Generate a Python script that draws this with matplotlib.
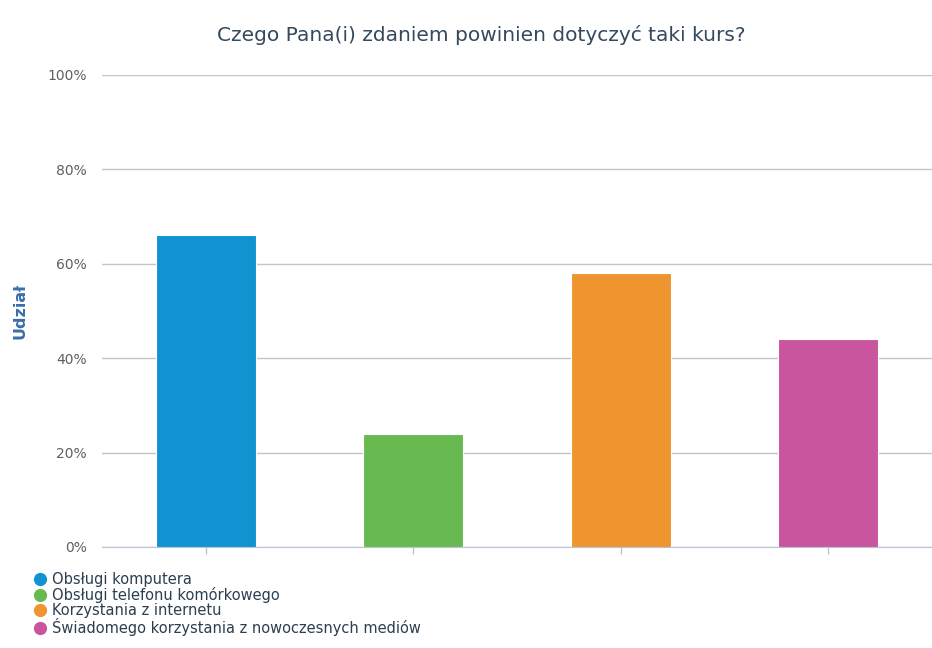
import matplotlib.pyplot as plt
from matplotlib.lines import Line2D
from matplotlib.ticker import FuncFormatter

plt.rcParams['font.family'] = ['DejaVu Sans']

categories = ["Obsługi komputera", "Obsługi telefonu komórkowego",
              "Korzystania z internetu", "Świadomego korzystania z nowoczesnych mediów"]
values = [66, 24, 58, 44]
colors = ["#1193d2", "#68ba50", "#ee9530", "#c8559d"]
yticks = [0, 20, 40, 60, 80, 100]

fig = plt.figure(figsize=(9.32, 6.48), dpi=100)
ax = fig.add_axes([102/932, 1-547/648, 830/932, 472/648])

x = list(range(len(values)))
ax.bar(x, values, width=0.48, color=colors, edgecolor='white', linewidth=0.8, zorder=3)
ax.set_xlim(-0.5, len(values)-0.5)
ax.set_ylim(0, 100)
ax.set_yticks(yticks)
ax.yaxis.set_major_formatter(FuncFormatter(lambda v, p: f"{v:.0f}%"))
ax.grid(axis='y', color='#c4c4c4', linewidth=1, zorder=0)
ax.tick_params(axis='y', length=0, pad=11, labelsize=10, labelcolor='#606060')
ax.set_xticks(x)
ax.set_xticklabels([])
ax.tick_params(axis='x', length=5, color='#b8c4d4', width=1)
for s in ['top', 'right', 'left']:
    ax.spines[s].set_visible(False)
ax.spines['bottom'].set_color('#b8c4d4')
ax.set_ylabel("Udział", fontsize=11.5, fontweight='bold', color='#3b6ea8')
ax.yaxis.set_label_coords(-74/830, 0.5)

fig.text(481/932, 1-35/648, "Czego Pana(i) zdaniem powinien dotyczyć taki kurs?",
         ha='center', va='center', fontsize=14.5, color='#34495e')

handles = [Line2D([], [], marker='o', linestyle='none', markersize=8.5,
                  markerfacecolor=c, markeredgecolor=c) for c in colors]
fig.legend(handles, categories, loc='upper left', bbox_to_anchor=(25/932, 1-565/648),
           frameon=False, fontsize=10.5, labelspacing=0.0, handletextpad=0.35,
           handlelength=1.0, borderpad=0, labelcolor='#2c3e50')

fig.savefig("out.png", dpi=100, facecolor='white')
